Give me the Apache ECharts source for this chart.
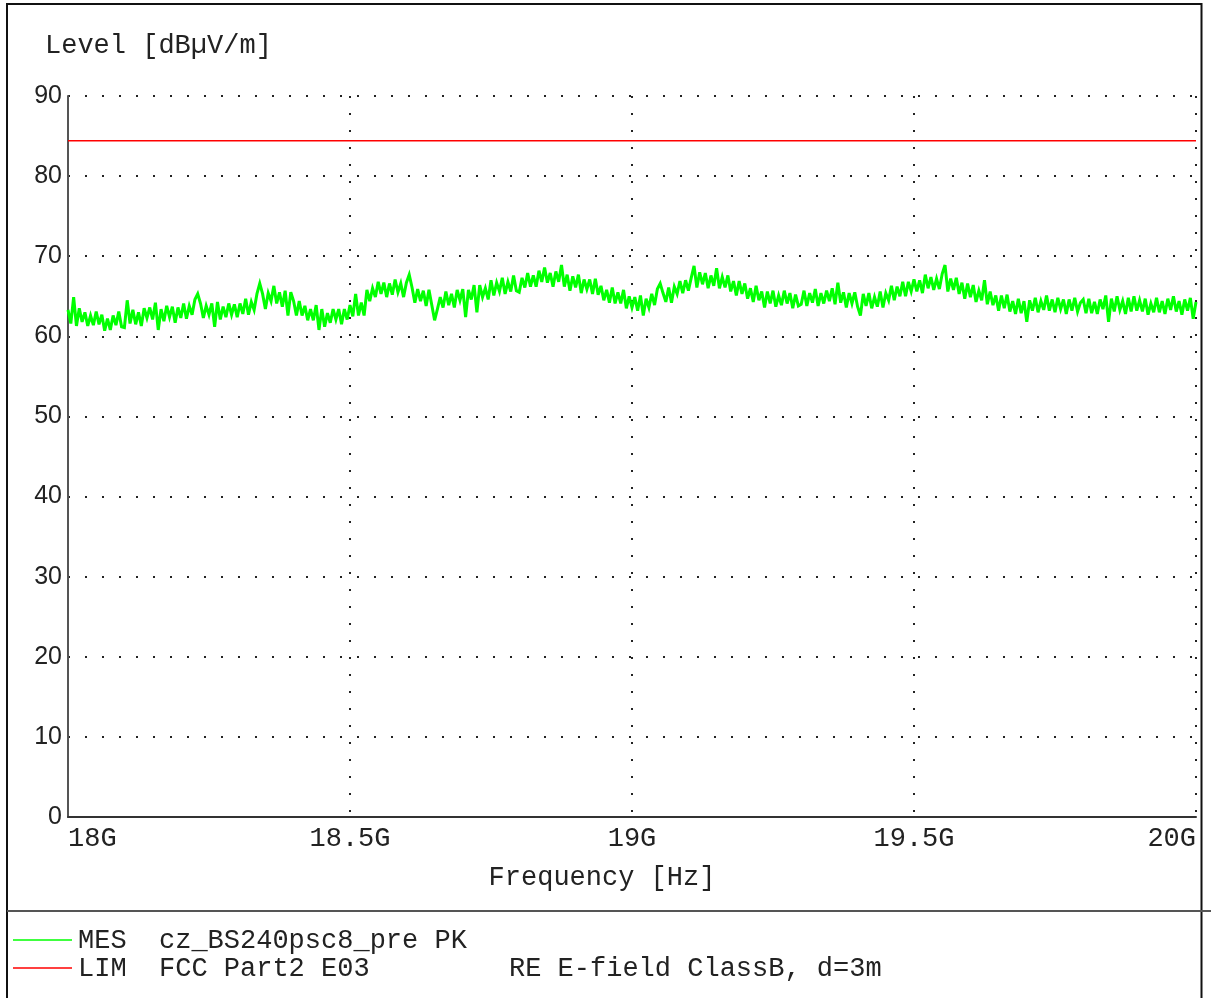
<!DOCTYPE html>
<html>
<head>
<meta charset="utf-8">
<script src="https://cdn.jsdelivr.net/npm/echarts@6/dist/echarts.min.js"></script>
<style>
  html, body { margin: 0; padding: 0; background: #fff; }
  #chart { width: 1211px; height: 998px; }
</style>
</head>
<body>
<div id="chart"></div>
<script>
// ---- data ----
const FREQ_START_GHZ = 18;      // first sweep point
const FREQ_STEP_GHZ = 0.005;    // sweep step
// measured level MES, dBµV/m, one value per sweep point
const LEVEL = [
  63.3, 61.6, 64.9, 61.3, 63.5, 61.8, 63.0, 61.3, 62.6, 61.4, 63.1, 61.5, 62.7, 60.7, 62.2, 60.8, 62.6, 61.4, 63.1, 61.2,
  61.1, 64.5, 61.6, 63.3, 61.5, 63.0, 61.3, 63.5, 62.3, 63.6, 62.1, 64.2, 60.8, 63.4, 61.9, 63.8, 62.4, 63.7, 61.7, 63.6,
  62.3, 64.1, 62.2, 63.8, 62.7, 64.6, 65.3, 64.1, 62.3, 63.8, 62.7, 64.1, 61.2, 64.3, 62.1, 63.7, 62.4, 64.1, 62.7, 64.0,
  62.4, 64.1, 62.8, 64.7, 62.7, 64.3, 63.3, 65.3, 66.6, 65.3, 63.4, 65.4, 64.4, 66.3, 64.1, 65.5, 63.7, 65.7, 62.6, 65.5,
  64.4, 62.6, 64.4, 62.6, 63.8, 62.0, 63.4, 62.0, 63.9, 60.8, 63.4, 61.2, 62.9, 61.7, 63.4, 62.1, 63.4, 61.5, 63.4, 62.1,
  63.9, 62.5, 65.3, 62.6, 64.2, 62.6, 65.8, 64.4, 66.0, 64.9, 66.8, 65.3, 66.7, 64.9, 66.6, 65.2, 67.1, 65.5, 66.6, 64.9,
  66.7, 67.7, 66.1, 64.2, 65.9, 64.4, 65.7, 63.8, 65.8, 63.9, 62.0, 63.4, 64.9, 63.6, 65.6, 63.9, 65.3, 63.6, 65.8, 64.5,
  65.9, 62.4, 65.8, 64.6, 66.4, 63.0, 66.4, 64.9, 66.0, 64.6, 67.0, 65.1, 66.7, 65.6, 67.3, 65.3, 66.8, 65.6, 67.6, 65.7,
  65.5, 67.3, 66.1, 67.9, 66.2, 67.6, 66.2, 68.2, 66.8, 68.6, 66.7, 67.9, 66.2, 68.1, 66.8, 68.9, 66.2, 67.7, 65.7, 67.5,
  66.1, 67.7, 65.4, 67.1, 65.9, 67.1, 65.3, 67.2, 65.2, 66.3, 64.5, 65.8, 64.2, 66.1, 64.1, 65.5, 64.1, 65.8, 63.5, 65.0,
  63.6, 64.9, 63.2, 65.1, 62.6, 64.7, 63.6, 65.3, 63.9, 65.9, 66.6, 65.4, 64.3, 66.1, 64.2, 66.2, 65.3, 66.9, 65.4, 67.0,
  65.7, 67.3, 68.8, 66.1, 68.0, 66.5, 67.9, 66.0, 67.6, 66.3, 68.5, 66.0, 67.4, 66.1, 67.6, 65.6, 66.9, 65.1, 66.9, 65.3,
  66.6, 64.7, 66.0, 64.3, 66.3, 64.5, 65.6, 63.6, 65.6, 64.1, 65.7, 63.7, 65.1, 63.9, 65.7, 64.1, 65.4, 63.5, 65.2, 63.8,
  64.0, 65.7, 63.8, 65.4, 64.2, 65.9, 63.8, 65.4, 64.1, 65.7, 64.4, 66.0, 64.0, 66.7, 64.2, 65.5, 63.6, 65.4, 64.1, 65.5,
  63.7, 62.6, 65.3, 63.8, 65.4, 63.5, 64.9, 63.7, 65.6, 63.6, 65.4, 64.5, 66.3, 64.5, 66.2, 65.0, 66.8, 65.0, 66.8, 65.6,
  67.1, 65.6, 67.0, 65.4, 67.7, 66.0, 67.4, 65.8, 67.2, 65.9, 67.8, 68.9, 65.6, 67.2, 65.8, 67.3, 65.3, 66.7, 64.7, 66.6,
  64.9, 66.4, 64.3, 65.7, 64.5, 67.0, 64.0, 65.6, 63.9, 65.1, 63.2, 65.1, 63.5, 65.2, 63.1, 64.4, 62.8, 64.7, 62.9, 64.4,
  61.8, 64.5, 63.2, 64.8, 63.0, 64.4, 63.3, 65.1, 63.2, 64.6, 63.0, 64.8, 63.4, 64.6, 62.8, 64.6, 63.2, 64.8, 63.1, 64.2,
  64.6, 62.9, 64.7, 62.9, 64.3, 62.8, 64.6, 63.4, 65.1, 61.8, 64.7, 63.1, 65.0, 63.3, 64.4, 62.8, 64.8, 63.1, 65.0, 63.2,
  64.5, 63.1, 64.7, 62.7, 64.1, 63.0, 64.8, 63.0, 64.4, 62.8, 64.7, 63.3, 65.0, 63.1, 64.4, 62.7, 64.6, 63.2, 64.8, 62.2, 64.3
];
// limit line LIM
const LIMIT_FREQ = [18, 20];
const LIMIT_LEVEL = [84.4, 84.4];
// axes
const X_MIN = 18, X_MAX = 20, X_STEP = 0.5;
const Y_MIN = 0, Y_MAX = 90, Y_STEP = 10;
// texts
const Y_TITLE = 'Level [dBµV/m]';
const X_TITLE = 'Frequency [Hz]';
const LEGEND_ROWS = [
  { key: 'MES', name: 'cz_BS240psc8_pre PK', extra: '' },
  { key: 'LIM', name: 'FCC Part2 E03', extra: 'RE E-field ClassB, d=3m' }
];

// ---- build ----
const mesData = LEVEL.map((v, i) => [FREQ_START_GHZ + i * FREQ_STEP_GHZ, v]);
const limData = LIMIT_FREQ.map((f, i) => [f, LIMIT_LEVEL[i]]);

const MONO = '"Courier New", "Liberation Mono", monospace';
const SANS = 'Arial, "Liberation Sans", sans-serif';
const GREEN = '#00ff00', RED = '#ff0000';

const chart = echarts.init(document.getElementById('chart'), null, { renderer: 'canvas' });

const dotted = { color: '#222', width: 2, type: [2, 15] };

chart.setOption({
  animation: false,
  backgroundColor: '#fff',
  grid: { left: 68, right: 15, top: 96, bottom: 181, containLabel: false },
  xAxis: {
    type: 'value', min: X_MIN, max: X_MAX, interval: X_STEP,
    axisLine: { show: true, onZero: false, lineStyle: { color: '#333', width: 2 } },
    axisTick: { show: false },
    axisLabel: {
      fontFamily: MONO, fontSize: 27, color: '#222', margin: 8,
      alignMinLabel: 'left', alignMaxLabel: 'right',
      formatter: v => (Math.round(v * 10) / 10) + 'G'
    },
    splitLine: { show: true, lineStyle: dotted }
  },
  yAxis: {
    type: 'value', min: Y_MIN, max: Y_MAX, interval: Y_STEP,
    axisLine: { show: true, lineStyle: { color: '#555', width: 2 } },
    axisTick: { show: false },
    axisLabel: { fontFamily: SANS, fontSize: 25, color: '#222', margin: 6 },
    splitLine: { show: true, lineStyle: dotted }
  },
  series: [
    {
      name: 'LIM', type: 'line', data: limData, showSymbol: false, silent: true,
      lineStyle: { color: RED, width: 1.5 }, z: 3
    },
    {
      name: 'MES', type: 'line', data: mesData, showSymbol: false, silent: true,
      lineStyle: { color: GREEN, width: 3, join: 'miter', miterLimit: 4 }, z: 2
    }
  ],
  graphic: [
    // outer frame
    { type: 'rect', shape: { x: 7, y: 4, width: 1194.5, height: 1010 }, style: { fill: 'none', stroke: '#111', lineWidth: 2 }, silent: true },
    // legend separator
    { type: 'line', shape: { x1: 7, y1: 911, x2: 1211, y2: 911 }, style: { stroke: '#555', lineWidth: 2 }, silent: true },
    // axis titles
    { type: 'text', x: 45, y: 46, style: { text: Y_TITLE, font: '27px ' + MONO, fill: '#222', verticalAlign: 'middle', align: 'left' } },
    { type: 'text', x: 602, y: 878, style: { text: X_TITLE, font: '27px ' + MONO, fill: '#222', verticalAlign: 'middle', align: 'center' } },
    // legend rows
    { type: 'line', shape: { x1: 13, y1: 940, x2: 72, y2: 940 }, style: { stroke: GREEN, lineWidth: 1.5 } },
    { type: 'line', shape: { x1: 13, y1: 968, x2: 72, y2: 968 }, style: { stroke: RED, lineWidth: 1.5 } },
    { type: 'text', x: 78, y: 941, style: { text: LEGEND_ROWS[0].key, font: '27px ' + MONO, fill: '#222', verticalAlign: 'middle' } },
    { type: 'text', x: 159, y: 941, style: { text: LEGEND_ROWS[0].name, font: '27px ' + MONO, fill: '#222', verticalAlign: 'middle' } },
    { type: 'text', x: 78, y: 969, style: { text: LEGEND_ROWS[1].key, font: '27px ' + MONO, fill: '#222', verticalAlign: 'middle' } },
    { type: 'text', x: 159, y: 969, style: { text: LEGEND_ROWS[1].name, font: '27px ' + MONO, fill: '#222', verticalAlign: 'middle' } },
    { type: 'text', x: 509, y: 969, style: { text: LEGEND_ROWS[1].extra, font: '27px ' + MONO, fill: '#222', verticalAlign: 'middle' } }
  ]
});
</script>
</body>
</html>
